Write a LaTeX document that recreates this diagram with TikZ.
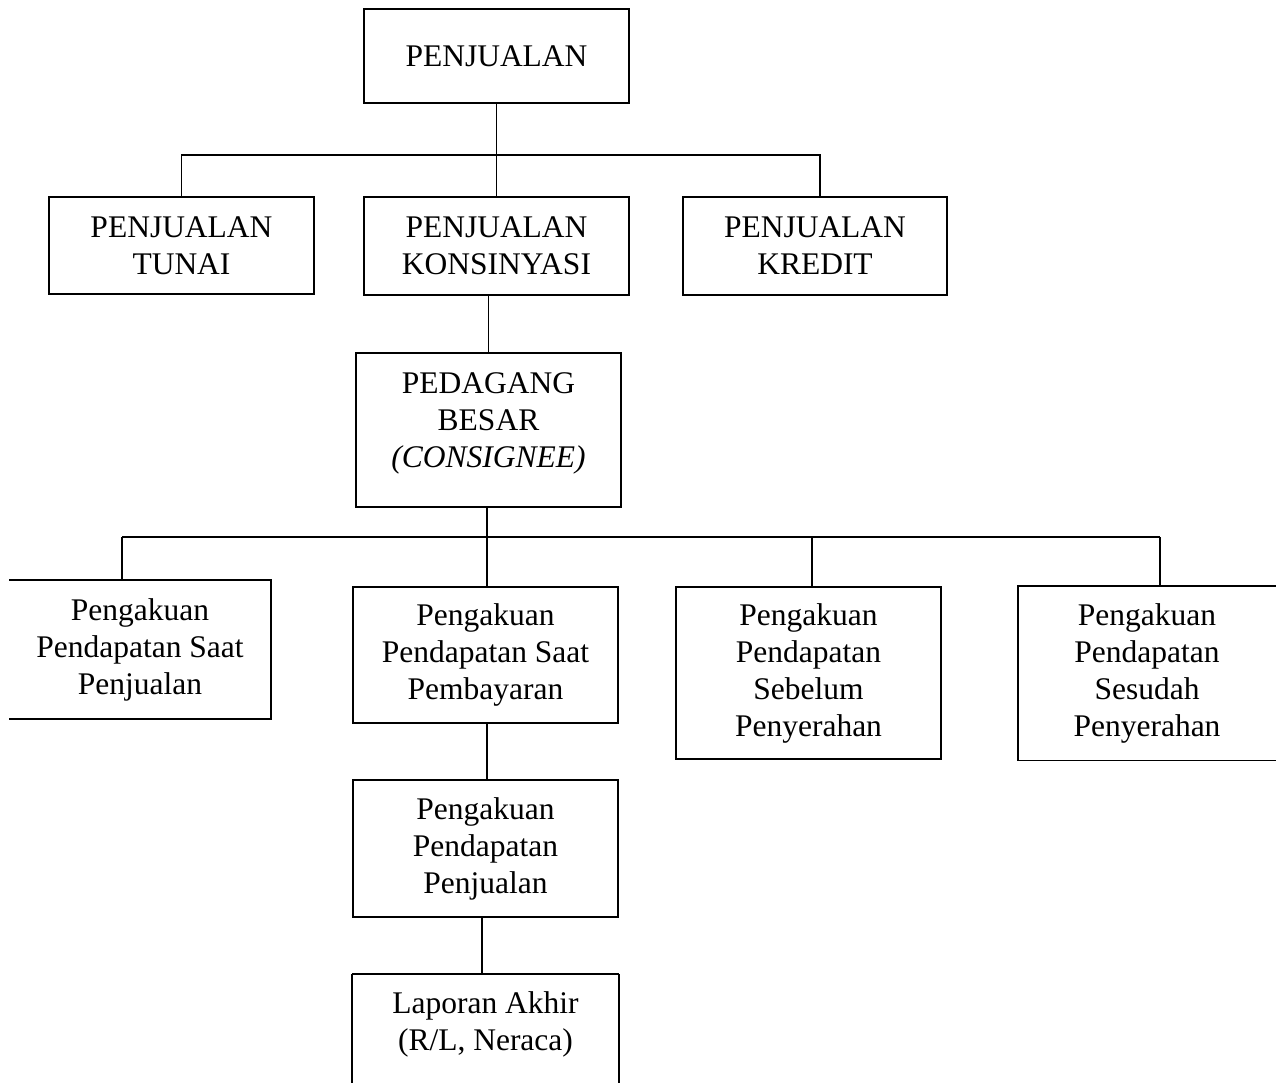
\documentclass[tikz,border=0pt]{standalone}
\usepackage{fontspec}
\setmainfont{Liberation Serif}
\begin{document}
\begin{tikzpicture}[x=1pt,y=-1pt,line width=1.6pt,
  box/.style={draw,rectangle,inner sep=0pt,align=center,font=\fontsize{31.5}{37}\selectfont},
  nobox/.style={box,draw=none}]
\useasboundingbox[fill=white] (0,0) rectangle (1278,1083);
% nodes
\node[box,minimum width=265pt,minimum height=94pt] (top) at (496.5,56) {PENJUALAN};
\node[box,minimum width=265pt,minimum height=97pt] (tunai) at (181.5,245.5) {PENJUALAN\\TUNAI};
\node[box,minimum width=265pt,minimum height=98pt] (kons) at (496.5,246) {PENJUALAN\\KONSINYASI};
\node[box,minimum width=264pt,minimum height=98pt] (kredit) at (815,246) {PENJUALAN\\KREDIT};
\node[box,minimum width=265pt,minimum height=154pt] (ped) at (488.5,430) {\begin{tabular}{@{}c@{}}PEDAGANG\\BESAR\\\textit{(CONSIGNEE)}\\[13pt]\end{tabular}};
\node[nobox,minimum width=260pt,minimum height=137pt] (b1) at (140,649.5) {Pengakuan\\Pendapatan Saat\\Penjualan};
\node[box,minimum width=265pt,minimum height=136pt] (b2) at (485.5,655) {Pengakuan\\Pendapatan Saat\\Pembayaran};
\node[box,minimum width=265pt,minimum height=172pt] (b3) at (808.5,673) {Pengakuan\\Pendapatan\\Sebelum\\Penyerahan};
\node[nobox,minimum width=256pt,minimum height=173pt] (b4) at (1147,673) {Pengakuan\\Pendapatan\\Sesudah\\Penyerahan};
\node[box,minimum width=265pt,minimum height=137pt] (b5) at (485.5,848.5) {Pengakuan\\Pendapatan\\Penjualan};
\node[nobox,minimum width=265pt,minimum height=98pt] (b6) at (485.5,1024) {Laporan Akhir\\(R/L, Neraca)};
% open-sided boxes
\draw (b1.north west) -- (b1.north east) -- (b1.south east) -- (b1.south west);
\draw (b4.north east) -- (b4.north west) -- (b4.south west) -- (b4.south east);
\draw (b6.north west) -- (b6.north east);
\draw (b6.north west) -- ++(0,110);
\draw (b6.north east) -- ++(0,110);
% connectors
\coordinate (j1) at (496.5,155);
\draw (top.south) -- (j1) -- (kons.north);
\draw (tunai.north) -- (tunai.north |- j1) -- ([xshift=5pt]kredit.north |- j1) -- ([xshift=5pt]kredit.north);
\draw (kons.south -| ped.north) -- (ped.north);
\coordinate (j2) at (487,537);
\coordinate (L) at (122,537);
\coordinate (R) at (1160,537);
\coordinate (d3) at (812,537);
\draw (ped.south -| j2) -- (j2);
\draw (L) -- (R);
\draw (L) -- (L |- b1.north);
\draw (j2) -- (j2 |- b2.north);
\draw (d3) -- (d3 |- b3.north);
\draw (R) -- (R |- b4.north);
\draw (b2.south -| j2) -- (b5.north -| j2);
\draw ([xshift=-3.5pt]b5.south) -- ([xshift=-3.5pt]b6.north);
\end{tikzpicture}
\end{document}
